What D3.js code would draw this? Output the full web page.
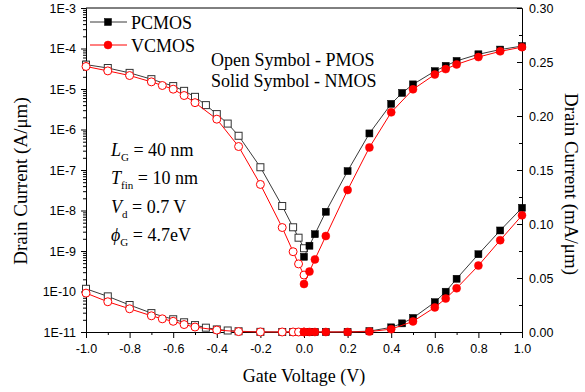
<!DOCTYPE html>
<html>
<head>
<meta charset="utf-8">
<script src="https://cdn.jsdelivr.net/npm/d3@7"></script>
<style>
  html, body { margin: 0; padding: 0; background: #fff; }
  svg { display: block; }
  .tick text { font-family: "Liberation Sans", Arial, sans-serif; font-size: 12.5px; fill: #000; }
  .domain, .tick line { stroke: #000; stroke-width: 1; }
  .serif { font-family: "Liberation Serif", "Times New Roman", serif; fill: #000; }
</style>
</head>
<body>
<svg id="chart" width="585" height="392"></svg>
<script>
// Gate voltage sweeps (V) and drain currents (A/µm) for each device / polarity
const vgPcmosP = [-1.0, -0.9, -0.8, -0.7, -0.6, -0.55, -0.5, -0.45, -0.4, -0.35, -0.3, -0.2, -0.1, -0.05, -0.025, 0.0];
const idPcmosP = [4.0e-5, 3.3e-5, 2.5e-5, 1.75e-5, 1.18e-5, 9.0e-6, 6.4e-6, 4.0e-6, 2.4e-6, 1.4e-6, 7.0e-7, 1.17e-7, 1.29e-8, 3.85e-9, 2.13e-9, 1.17e-9];

const vgVcmosP = [-1.0, -0.9, -0.8, -0.7, -0.65, -0.6, -0.55, -0.5, -0.4, -0.3, -0.2, -0.1, -0.05, -0.025, 0.0];
const idVcmosP = [3.6e-5, 2.8e-5, 2.15e-5, 1.5e-5, 1.22e-5, 9.9e-6, 6.9e-6, 4.6e-6, 1.8e-6, 3.8e-7, 4.4e-8, 3.8e-9, 9.6e-10, 4.8e-10, 2.55e-10];

const vgPcmosN = [0.0, 0.025, 0.05, 0.1, 0.2, 0.3, 0.4, 0.45, 0.5, 0.6, 0.65, 0.7, 0.8, 0.9, 1.0];
const idPcmosN = [7.2e-10, 1.35e-9, 2.6e-9, 9.3e-9, 9.4e-8, 8.0e-7, 4.3e-6, 8.0e-6, 1.3e-5, 2.76e-5, 3.73e-5, 4.93e-5, 7.2e-5, 9.4e-5, 1.15e-4];

const vgVcmosN = [0.0, 0.025, 0.05, 0.1, 0.2, 0.3, 0.4, 0.5, 0.6, 0.65, 0.7, 0.8, 0.9, 1.0];
const idVcmosN = [1.53e-10, 3.1e-10, 6.2e-10, 2.34e-9, 3.2e-8, 3.6e-7, 2.65e-6, 9.8e-6, 2.28e-5, 3.1e-5, 4.05e-5, 6.15e-5, 8.5e-5, 1.08e-4];

// Axis tick values
const xTicks = [-1.0, -0.8, -0.6, -0.4, -0.2, 0.0, 0.2, 0.4, 0.6, 0.8, 1.0];
const xTickLabels = ["-1.0", "-0.8", "-0.6", "-0.4", "-0.2", "0.0", "0.2", "0.4", "0.6", "0.8", "1.0"];
const logExponents = [-11, -10, -9, -8, -7, -6, -5, -4, -3];
const rightTicks = [0.00, 0.05, 0.10, 0.15, 0.20, 0.25, 0.30];
const rightTickLabels = ["0.00", "0.05", "0.10", "0.15", "0.20", "0.25", "0.30"];

const legendNames = ["PCMOS", "VCMOS"];

const plot = { left: 86, right: 522, top: 8, bottom: 332 };
const BLACK = "#000";
const LINE_BLACK = "#3a3a3a";
const RED = "#ff0000";

const svg = d3.select("#chart");

const x = d3.scaleLinear().domain([-1, 1]).range([plot.left, plot.right]);
const yLog = d3.scaleLog().domain([1e-11, 1e-3]).range([plot.bottom, plot.top]);
const yLin = d3.scaleLinear().domain([0, 0.30]).range([plot.bottom, plot.top]);

// ---- axes ----
const minorX = d3.range(-0.9, 1.0, 0.2).map(v => Math.round(v * 10) / 10);
svg.append("g").attr("transform", `translate(0,${plot.bottom})`)
  .call(d3.axisBottom(x).tickValues(minorX).tickSize(3).tickFormat(""))
  .call(g => g.select(".domain").remove());
svg.append("g").attr("transform", `translate(0,${plot.bottom})`)
  .call(d3.axisBottom(x).tickValues(xTicks).tickSize(6).tickPadding(6)
    .tickFormat((d, i) => xTickLabels[i]));

const minorLog = [];
for (let e = -11; e < -3; e++) for (let m = 2; m <= 9; m++) minorLog.push(m * Math.pow(10, e));
svg.append("g").attr("transform", `translate(${plot.left},0)`)
  .call(d3.axisLeft(yLog).tickValues(minorLog).tickSize(3).tickFormat(""))
  .call(g => g.select(".domain").remove());
svg.append("g").attr("transform", `translate(${plot.left},0)`)
  .call(d3.axisLeft(yLog).tickValues(logExponents.map(e => Math.pow(10, e)))
    .tickSize(5).tickPadding(5).tickFormat((d, i) => "1E" + logExponents[i]));

const minorRight = d3.range(0.025, 0.30, 0.05);
svg.append("g").attr("transform", `translate(${plot.right},0)`)
  .call(d3.axisRight(yLin).tickValues(minorRight).tickSize(-3).tickFormat(""))
  .call(g => g.select(".domain").remove());
svg.append("g").attr("transform", `translate(${plot.right},0)`)
  .call(d3.axisRight(yLin).tickValues(rightTicks).tickSize(-5).tickPadding(7)
    .tickFormat((d, i) => rightTickLabels[i]));

// top frame line
svg.append("line")
  .attr("x1", plot.left).attr("x2", plot.right)
  .attr("y1", plot.top).attr("y2", plot.top)
  .attr("stroke", BLACK).attr("stroke-width", 1);

// ---- series ----
const clip = svg.append("defs").append("clipPath").attr("id", "plotclip")
  .append("rect").attr("x", plot.left - 6).attr("y", plot.top - 6)
  .attr("width", plot.right - plot.left + 12).attr("height", plot.bottom - plot.top + 12);

const layer = svg.append("g").attr("clip-path", "url(#plotclip)");

function series(vg, id) { return vg.map((v, i) => ({ v, i: id[i] })); }

const seriesDefs = [
  { data: series(vgPcmosP, idPcmosP), shape: "square", filled: false, color: BLACK, line: LINE_BLACK },
  { data: series(vgPcmosN, idPcmosN), shape: "square", filled: true, color: BLACK, line: LINE_BLACK },
  { data: series(vgVcmosP, idVcmosP), shape: "circle", filled: false, color: RED, line: RED },
  { data: series(vgVcmosN, idVcmosN), shape: "circle", filled: true, color: RED, line: RED }
];

function drawMarkers(g, pts, def) {
  if (def.shape === "square") {
    const s = 7;
    g.selectAll(null).data(pts).join("rect")
      .attr("x", d => d[0] - s / 2).attr("y", d => d[1] - s / 2)
      .attr("width", s).attr("height", s)
      .attr("fill", def.filled ? def.color : "#fff")
      .attr("stroke", def.filled ? def.color : "#333")
      .attr("stroke-width", def.filled ? 0.5 : 1);
  } else {
    g.selectAll(null).data(pts).join("circle")
      .attr("cx", d => d[0]).attr("cy", d => d[1]).attr("r", 4)
      .attr("fill", def.filled ? def.color : "#fff")
      .attr("stroke", def.color)
      .attr("stroke-width", def.filled ? 0.5 : 1);
  }
}

const line = d3.line();

// each series is drawn twice: log scale (left axis, A/µm) and linear scale (right axis, mA/µm)
seriesDefs.forEach(def => {
  const logPts = def.data.map(d => [x(d.v), yLog(d.i)]);
  const linPts = def.data.map(d => [x(d.v), yLin(d.i * 1e3)]);
  [logPts, linPts].forEach(pts => {
    const g = layer.append("g");
    g.append("path").attr("d", line(pts)).attr("fill", "none")
      .attr("stroke", def.line).attr("stroke-width", 1);
    drawMarkers(g, pts, def);
  });
});

// ---- legend ----
const legend = svg.append("g");
legendNames.forEach((name, k) => {
  const def = seriesDefs[k === 0 ? 1 : 3];
  const ly = 22 + k * 23;
  legend.append("line").attr("x1", 90).attr("x2", 127).attr("y1", ly).attr("y2", ly)
    .attr("stroke", def.line).attr("stroke-width", 1);
  drawMarkers(legend, [[108, ly]], def);
  legend.append("text").attr("class", "serif").attr("x", 131).attr("y", ly + 6.5)
    .attr("font-size", 18).text(name);
});

// ---- annotations ----
svg.append("text").attr("class", "serif").attr("x", 211).attr("y", 66)
  .attr("font-size", 18).text("Open Symbol - PMOS");
svg.append("text").attr("class", "serif").attr("x", 211).attr("y", 87)
  .attr("font-size", 18).text("Solid Symbol - NMOS");

const params = [
  { sym: "L", sub: "G", rest: " = 40 nm" },
  { sym: "T", sub: "fin", rest: " = 10 nm" },
  { sym: "V", sub: "d", rest: " = 0.7 V" },
  { sym: "\u03D5", sub: "G", rest: " = 4.7eV" }
];
params.forEach((p, k) => {
  const t = svg.append("text").attr("class", "serif").attr("x", 111).attr("y", 156 + k * 28.3)
    .attr("font-size", 18);
  t.append("tspan").attr("font-style", "italic").text(p.sym);
  t.append("tspan").attr("font-size", 11).attr("dy", 5).text(p.sub);
  t.append("tspan").attr("dy", -5).text(p.rest);
});

// ---- axis titles ----
svg.append("text").attr("class", "serif").attr("x", 304).attr("y", 382)
  .attr("text-anchor", "middle").attr("font-size", 18).text("Gate Voltage (V)");
svg.append("text").attr("class", "serif")
  .attr("transform", "translate(27,181) rotate(-90)")
  .attr("text-anchor", "middle").attr("font-size", 19).text("Drain Current (A/\u03BCm)");
svg.append("text").attr("class", "serif")
  .attr("transform", "translate(565,184) rotate(90)")
  .attr("text-anchor", "middle").attr("font-size", 19).text("Drain Current (mA/\u03BCm)");
</script>
</body>
</html>
